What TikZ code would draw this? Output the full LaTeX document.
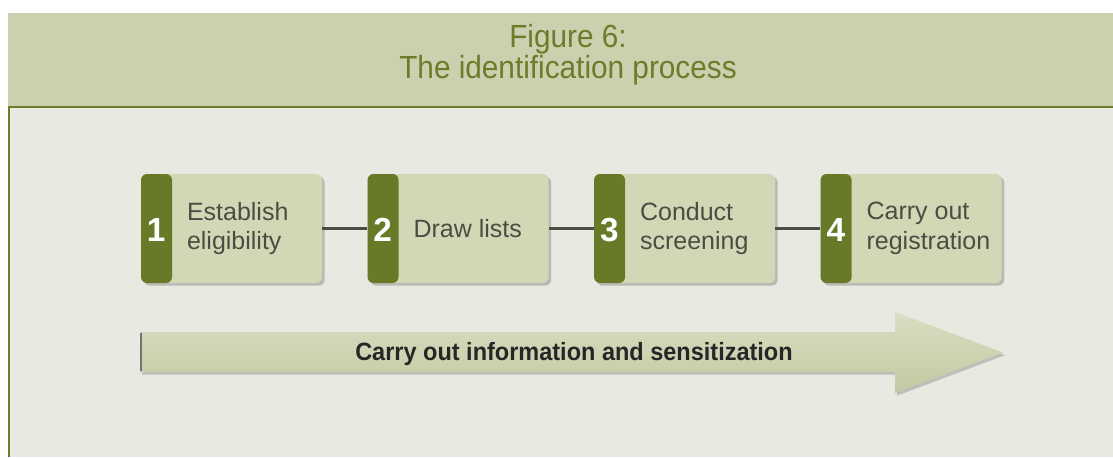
\documentclass[tikz,border=0pt]{standalone}
\usepackage{fontspec}
\setmainfont{Liberation Sans}
\newfontfamily\titlefont[FakeStretch=0.93]{Liberation Sans}
\newfontfamily\bannerfont[FakeStretch=0.94]{Liberation Sans}
\usepackage{tikz}
\usetikzlibrary{positioning, shadows, calc}

\definecolor{headfill}{HTML}{CBD1AF}
\definecolor{bodyfill}{HTML}{E8E9E0}
\definecolor{olive}{HTML}{6B7D2B}
\definecolor{stepfill}{HTML}{D3D7B6}
\definecolor{tabfill}{HTML}{687A28}
\definecolor{linkgray}{HTML}{4A4E42}
\definecolor{stepgray}{HTML}{4B4D43}
\definecolor{arrowtop}{HTML}{DADDC2}
\definecolor{arrowbot}{HTML}{C4C9A2}

\tikzset{
	stepbox/.style={rectangle, rounded corners=4.5pt, minimum width=135.75pt, minimum height=81.75pt,
		fill=stepfill, drop shadow={shadow xshift=2pt, shadow yshift=-2pt, fill=black!45, opacity=.5},
		path picture={\fill[tabfill] (path picture bounding box.south west) rectangle ([xshift=23.25pt]path picture bounding box.north west);}},
	tabnum/.style={inner sep=0pt, text=white, font=\fontsize{25}{26}\selectfont\bfseries},
	steptext/.style={inner sep=0pt, align=left, text=stepgray, font=\fontsize{18.75}{22}\selectfont},
	link/.style={linkgray, line width=1.6pt},
	titletext/.style={inner sep=0pt, align=center, text=olive, font=\titlefont\fontsize{24}{23.5}\selectfont},
	bannertext/.style={inner sep=0pt, text=black!85, font=\bannerfont\fontsize{18.75}{20}\selectfont\bfseries}
}

\begin{document}
\begin{tikzpicture}[x=0.75pt, y=-0.75pt, node distance=33.75pt]
	\useasboundingbox (0,0) rectangle (1113,457);
	% Frame
	\fill[white] (0,0) rectangle (1113,457);
	\fill[headfill] (8,13) rectangle (1113,107);
	\fill[bodyfill] (8,107) rectangle (1113,457);
	\draw[olive, line width=1.5pt] (8,107) -- (1113,107);
	\draw[olive, line width=1.5pt] (8.75,107) -- (8.75,457);
	\node[titletext, anchor=north] (title) at (568,24) {Figure 6:\\The identification process};

	% Steps
	\node[stepbox] (elig) at (231.5,228.5) {};
	\node[stepbox, right=of elig] (lists) {};
	\node[stepbox, right=of lists] (screen) {};
	\node[stepbox, right=of screen] (regist) {};

	\node[tabnum] (n1) at ([xshift=11.6pt, yshift=-1pt]elig.west) {1};
	\node[tabnum] (n2) at ([xshift=11.6pt, yshift=-1pt]lists.west) {2};
	\node[tabnum] (n3) at ([xshift=11.6pt, yshift=-1pt]screen.west) {3};
	\node[tabnum] (n4) at ([xshift=11.6pt, yshift=-1pt]regist.west) {4};

	\node[steptext, right=34.5pt of elig.west] (eligtxt) {Establish\\eligibility};
	\node[steptext, right=34.5pt of lists.west] (liststxt) {Draw lists};
	\node[steptext, right=34.5pt of screen.west] (screentxt) {Conduct\\screening};
	\node[steptext, right=34.5pt of regist.west] (registtxt) {Carry out\\registration};

	% Links
	\draw[link] (elig) -- (lists);
	\draw[link] (lists) -- (screen);
	\draw[link] (screen) -- (regist);

	% Banner arrow
	\path[top color=arrowtop, bottom color=arrowbot, drop shadow={shadow xshift=1.5pt, shadow yshift=-2pt, fill=black!45, opacity=.45}]
		(140,332) -- (895,332) -- (895,312) -- (1003,352.5) -- (895,393) -- (895,372) -- (140,372) -- cycle;
	\draw[black!55, line width=2pt] (141,333) -- (141,371);
	\node[bannertext, anchor=base west] (inform) at (355,360) {Carry out information and sensitization};
\end{tikzpicture}
\end{document}
